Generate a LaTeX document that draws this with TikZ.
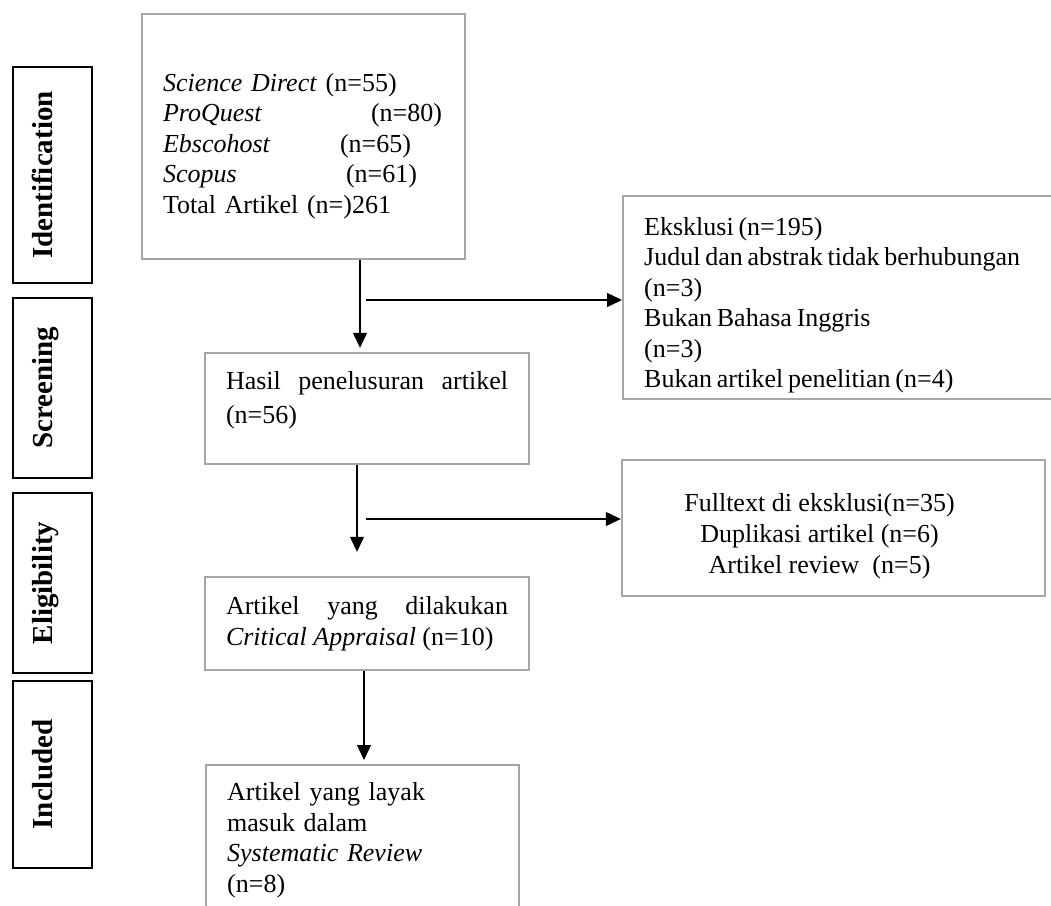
\documentclass[tikz,border=0pt]{standalone}
\usepackage{fontspec}
\setmainfont{Liberation Serif}
\usetikzlibrary{arrows.meta}
\usetikzlibrary{positioning}

\tikzset{
  flowbox/.style={draw=gray!70, line width=2.4pt, inner xsep=21pt, inner ysep=0pt,
    font=\fontsize{26}{30.5}\selectfont},
  phase/.style={draw=black, line width=2pt, rotate=90, inner sep=0pt,
    minimum height=79pt, text height=21pt, text depth=21pt,
    font=\fontsize{29}{32}\selectfont\bfseries},
  arrow/.style={-{Triangle[length=15pt,width=14pt]}, line width=1.3pt},
}

\begin{document}
\begin{tikzpicture}[x=1pt, y=-1pt]
		\useasboundingbox (0,0) rectangle (1051,905);
		\clip (0,0) rectangle (1051,905);
		
		% phases on the left
		\node[phase, minimum width=216pt] (ident) at (52.5,175) {Identification};
		\node[phase, minimum width=180pt] (screen) at (52.5,388) {Screening};
		\node[phase, minimum width=180pt] (elig) at (52.5,583) {Eligibility};
		\node[phase, minimum width=187pt] (incl) at (52.5,774.5) {Included};
		
		% main column
		\node[flowbox, minimum width=323pt, minimum height=245pt, text width=281pt, align=left] (search) at (303.5,136.5) {%
			\rule{0pt}{37pt}\textit{Science Direct} (n=55)\\
			\makebox[208pt][l]{\textit{ProQuest}}(n=80)\\
			\makebox[177pt][l]{\textit{Ebscohost}}(n=65)\\
			\makebox[183pt][l]{\textit{Scopus}}(n=61)\\
			Total Artikel (n=)261};
		\node[flowbox, minimum width=324pt, minimum height=111pt, text width=282pt, align=justify,
		      font=\fontsize{26}{34}\selectfont] (result) at (367,408.5) {%
			Hasil penelusuran artikel\linebreak (n=56)\rule[-23pt]{0pt}{0pt}};
		\node[flowbox, minimum width=324pt, minimum height=93pt, text width=282pt, align=justify] (apprais) at (367,623.5) {%
			Artikel yang dilakukan\linebreak \textit{Critical Appraisal} (n=10)};
		\node[flowbox, anchor=north west, minimum width=313pt, minimum height=150pt, text width=271pt, align=left] (review) at (205,764) {%
			Artikel yang layak\\
			masuk dalam\\
			\textit{Systematic Review}\\
			(n=8)};
		
		% exclusions on the right
		\node[flowbox, anchor=west, minimum width=460pt, minimum height=203pt, text width=418pt, align=left] (excl1) at (622,297.5) {%
			\spaceskip=4.8pt\rule{0pt}{34pt}Eksklusi (n=195)\\
			Judul dan abstrak tidak berhubungan\\
			(n=3)\\
			Bukan Bahasa Inggris\\
			(n=3)\\
			Bukan artikel penelitian (n=4)};
		\node[flowbox, minimum width=423pt, minimum height=136pt] (excl2) at (833.5,528) {};
		\node[align=center, font=\fontsize{26}{31}\selectfont] (excl2txt) at ([xshift=-14pt,yshift=-8pt]excl2.center) {%
			Fulltext di eksklusi(n=35)\\
			Duplikasi artikel (n=6)\\
			Artikel review~ (n=5)};
		
		% arrows
		\draw[arrow, shorten >=4pt] ([xshift=-7pt]result.north |- search.south) -- ([xshift=-7pt]result.north);
		\draw[arrow, shorten >=24pt] ([xshift=-10pt]result.south) -- ([xshift=-10pt]apprais.north);
		\draw[arrow, shorten >=4pt] ([xshift=-3pt]apprais.south) -- ([xshift=-3pt]apprais.south |- review.north);
		
		\coordinate (cut1) at (366,300);
		\coordinate (cut2) at (366,519);
		\draw[arrow] (cut1) -- (cut1 -| excl1.west);
		\draw[arrow] (cut2) -- (cut2 -| excl2.west);
	\end{tikzpicture}
\end{document}
